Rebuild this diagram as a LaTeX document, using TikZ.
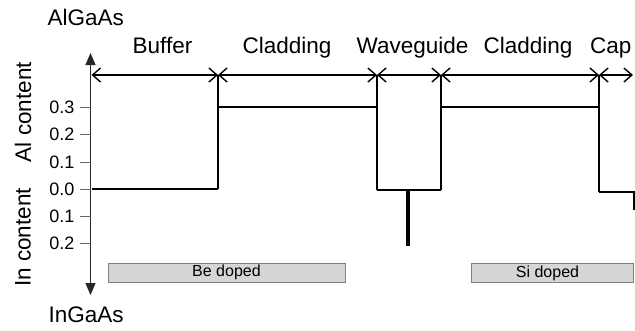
\documentclass[tikz,border=0pt]{standalone}
\usepackage{fontspec}
\setmainfont{Liberation Sans}
\usetikzlibrary{arrows.meta}
\tikzset{
  biglabel/.style={font=\fontsize{22.5}{26}\selectfont, inner sep=0pt},
  ticklabel/.style={font=\fontsize{18}{21}\selectfont, inner sep=0pt, anchor=east},
  dimline/.style={line width=1.4pt, {Straight Barb[length=8pt,width=14pt]}-{Straight Barb[length=8pt,width=14pt]}},
  profile/.style={line width=2pt},
  axisline/.style={line width=1.2pt, black!85, {Triangle[length=12pt,width=10pt]}-{Triangle[length=12pt,width=10pt]}},
  tickmark/.style={line width=1pt, black!60},
  dopebox/.style={draw=black!50, fill=black!16, line width=0.8pt, minimum height=19pt, inner sep=0pt, font=\fontsize{16}{19}\selectfont},
}
\begin{document}
\begin{tikzpicture}[x=1pt, y=-1pt]
\useasboundingbox (0,0) rectangle (635,330);

% layer boundaries on the dimension line
\coordinate (d0) at (91.5,75);
\coordinate (d1) at (218,75);
\coordinate (d2) at (377,75);
\coordinate (d3) at (441,75);
\coordinate (d4) at (599,75);
\coordinate (d5) at (633,75);

% vertical axis
\coordinate (ytop) at (90.5,53);
\coordinate (ybot) at (90.5,295);
\draw[axisline] (ytop) -- (ybot);

% ticks and labels
\foreach \v/\y/\n in {0.3/107/a3, 0.2/134.5/a2, 0.1/162/a1, 0.0/189/a0, 0.1/216.5/i1, 0.2/243.5/i2} {
  \coordinate (t\n) at (90.5,\y);
  \draw[tickmark] (80,\y) -- (t\n);
  \node[ticklabel] (l\n) at (74.5,\y) {\v};
}

% axis titles
\node[biglabel, anchor=base west] (algaas) at (47.5,25) {AlGaAs};
\node[biglabel, anchor=base west] (ingaas) at (48.5,322) {InGaAs};
\node[biglabel, rotate=90] (alc) at (23,112) {Al content};
\node[biglabel, rotate=90] (inc) at (23,237.5) {In content};

% layer names
\node[biglabel, anchor=base] (buf) at (162.5,53.5) {Buffer};
\node[biglabel, anchor=base] (clad1) at (287,53.5) {Cladding};
\node[biglabel, anchor=base] (wg) at (412.5,53.5) {Waveguide};
\node[biglabel, anchor=base] (clad2) at (528,53.5) {Cladding};
\node[biglabel, anchor=base west] (cap) at (590,53.5) {Cap};

% dimension arrows
\draw[dimline] (d0) -- (d1);
\draw[dimline] (d1) -- (d2);
\draw[dimline] (d2) -- (d3);
\draw[dimline] (d3) -- (d4);
\draw[dimline] (d4) -- (d5);

% composition profile
\coordinate (p0) at (91.5,189);
\coordinate (p1) at (218,189);
\coordinate (p2) at (218,107);
\coordinate (p3) at (377,107);
\coordinate (p4) at (377,190);
\coordinate (p5) at (441,190);
\coordinate (p6) at (441,107);
\coordinate (p7) at (599,107);
\coordinate (p8) at (599,192);
\coordinate (p9) at (640,192);
\draw[profile] (p0) -- (p1);
\draw[profile] (p2) -- (p3);
\draw[profile] (p4) -- (p5);
\draw[profile] (p6) -- (p7);
\draw[profile] (p8) -- (p9);
\draw[profile] (d1) -- (p1);
\draw[profile] (d2) -- (p4);
\draw[profile] (d3) -- (p5);
\draw[profile] (d4) -- (p8);
\coordinate (e0) at (634,192);
\coordinate (e1) at (634,210);
\draw[profile] (e0) -- (e1);

% quantum well
\coordinate (qw0) at (408,190);
\coordinate (qw1) at (408,245.5);
\draw[line width=4pt] (qw0) -- (qw1);

% doping regions
\node[dopebox, minimum width=237pt] (be) at (226.5,272.5) {Be doped};
\node[dopebox, minimum width=162pt] (si) at (552.5,273) {\hspace*{-10pt}Si doped};
\end{tikzpicture}
\end{document}
